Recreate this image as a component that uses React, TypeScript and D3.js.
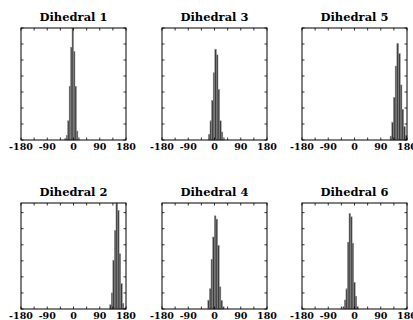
import React from "react";
import * as d3 from "d3";

// Angle axis (degrees)
const angleTickLabels = [-180, -90, 0, 90, 180];
const angleTickMarks = [-180, -135, -90, -45, 0, 45, 90, 135, 180];

// Each histogram: 10 equal bins spanning [min, max] of the sampled angles
const titles = ["Dihedral 1", "Dihedral 2", "Dihedral 3", "Dihedral 4", "Dihedral 5", "Dihedral 6"];

const d1Range = [-30, 20];
const d1Counts = [40, 140, 600, 1680, 2900, 3500, 2770, 1680, 280, 70];

const d2Range = [124, 178];
const d2Counts = [130, 500, 1520, 2440, 3300, 3070, 1720, 790, 170, 30];

const d3Range = [-21, 34];
const d3Counts = [170, 600, 1230, 2100, 2840, 2660, 1580, 600, 250, 70];

const d4Range = [-23, 33];
const d4Counts = [280, 630, 1550, 2240, 2900, 2800, 1980, 690, 260, 70];

const d5Range = [122, 180];
const d5Counts = [120, 560, 1330, 2310, 3010, 2700, 1720, 950, 420, 140];

const d6Range = [-40, 13];
const d6Counts = [70, 280, 630, 2080, 2970, 2870, 2050, 830, 400, 70];

// Count axis limits per row, ticks every 500
const rowCountMax = [3500, 3300];
const countStep = 500;

const W = 413;
const H = 320;
const colLeft = [21, 162, 302];
const colWidth = 105;
const rowTop = [28, 203];
const rowHeight = [112, 106];

const FONT = "'DejaVu Serif', 'Liberation Serif', serif";

type PanelSpec = { title: string; range: number[]; counts: number[]; row: number; col: number };

const panels: PanelSpec[] = [
  { title: titles[0], range: d1Range, counts: d1Counts, row: 0, col: 0 },
  { title: titles[2], range: d3Range, counts: d3Counts, row: 0, col: 1 },
  { title: titles[4], range: d5Range, counts: d5Counts, row: 0, col: 2 },
  { title: titles[1], range: d2Range, counts: d2Counts, row: 1, col: 0 },
  { title: titles[3], range: d4Range, counts: d4Counts, row: 1, col: 1 },
  { title: titles[5], range: d6Range, counts: d6Counts, row: 1, col: 2 },
];

function Panel({ p }: { p: PanelSpec }) {
  const x0 = colLeft[p.col];
  const y0 = rowTop[p.row];
  const w = colWidth;
  const h = rowHeight[p.row];
  const yMax = rowCountMax[p.row];

  const x = d3.scaleLinear().domain([-180, 180]).range([x0, x0 + w]);
  const y = d3.scaleLinear().domain([0, yMax]).range([y0 + h, y0]);
  const countTicks = d3.range(0, yMax + 1, countStep);

  const n = p.counts.length;
  const binW = (p.range[1] - p.range[0]) / n;
  const bins = p.counts.map((c, i) => ({
    a0: p.range[0] + i * binW,
    a1: p.range[0] + (i + 1) * binW,
    c,
  }));

  const tl = 2.5;
  return (
    <g>
      <text
        x={x0 + w / 2}
        y={y0 - 7}
        textAnchor="middle"
        fontFamily={FONT}
        fontWeight="bold"
        fontSize={11.5}
        fill="#000"
      >
        {p.title}
      </text>
      {bins.map((b, i) => (
        <rect
          key={i}
          x={x(b.a0)}
          y={y(Math.min(b.c, yMax))}
          width={x(b.a1) - x(b.a0)}
          height={y(0) - y(Math.min(b.c, yMax))}
          fill="#3a3a3a"
          stroke="#8c8c8c"
          strokeWidth={0.5}
        />
      ))}
      {angleTickMarks.map((t) => (
        <g key={"xt" + t}>
          <line x1={x(t)} x2={x(t)} y1={y0 + h} y2={y0 + h - tl} stroke="#000" strokeWidth={0.8} />
          <line x1={x(t)} x2={x(t)} y1={y0} y2={y0 + tl} stroke="#000" strokeWidth={0.8} />
        </g>
      ))}
      {countTicks.map((t) => (
        <g key={"yt" + t}>
          <line x1={x0} x2={x0 + tl} y1={y(t)} y2={y(t)} stroke="#000" strokeWidth={0.8} />
          <line x1={x0 + w} x2={x0 + w - tl} y1={y(t)} y2={y(t)} stroke="#000" strokeWidth={0.8} />
        </g>
      ))}
      <rect x={x0} y={y0} width={w} height={h} fill="none" stroke="#000" strokeWidth={1} />
      {angleTickLabels.map((t) => (
        <text
          key={"xl" + t}
          x={x(t)}
          y={y0 + h + 10}
          textAnchor="middle"
          fontFamily={FONT}
          fontWeight="bold"
          fontSize={9.5}
          fill="#000"
        >
          {t}
        </text>
      ))}
    </g>
  );
}

export default function App() {
  return (
    <svg
      width={W}
      height={H}
      viewBox={`0 0 ${W} ${H}`}
      style={{ position: "absolute", left: 0, top: 0, background: "#fff" }}
    >
      <rect x={0} y={0} width={W} height={H} fill="#fff" />
      {panels.map((p, i) => (
        <Panel key={i} p={p} />
      ))}
    </svg>
  );
}
